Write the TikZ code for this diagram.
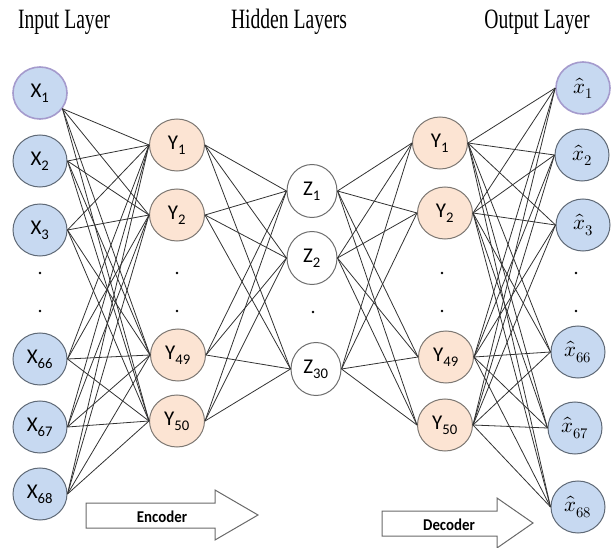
\documentclass[tikz,border=0pt]{standalone}
\usepackage{fontspec}
\usepackage{unicode-math}
\setmainfont{Carlito}
\setmathfont{Latin Modern Math}
\newfontfamily\titlefont{Liberation Serif}
\usetikzlibrary{shapes.geometric}
\definecolor{lightblue}{RGB}{199,217,241}
\definecolor{bluegray}{RGB}{95,105,118}
\definecolor{lavender}{RGB}{165,155,205}
\definecolor{peach}{RGB}{252,228,211}
\definecolor{peachborder}{RGB}{125,120,115}
\definecolor{zborder}{RGB}{110,110,110}
\definecolor{linegray}{RGB}{50,50,50}
\definecolor{arrowgray}{RGB}{105,105,105}
\newcommand\lblfont{\fontsize{21}{23}\selectfont}
\newcommand\squeezetxt[1]{\scalebox{0.7}[1]{#1}}
\begin{document}
\begin{tikzpicture}[x=1pt,y=-1pt,
  conn/.style={draw=linegray, line width=0.8pt},
  titlenode/.style={font=\titlefont\fontsize{28}{30}\selectfont, anchor=base, inner sep=0pt},
  innode/.style={ellipse, draw=bluegray, fill=lightblue, line width=1pt, minimum width=54pt, minimum height=52pt, inner sep=0pt, font=\lblfont},
  selnode/.style={draw=lavender, line width=1.6pt},
  hidnode/.style={ellipse, draw=peachborder, fill=peach, line width=1pt, minimum width=55pt, minimum height=52pt, inner sep=0pt, font=\lblfont},
  znode/.style={ellipse, draw=zborder, fill=white, line width=1pt, minimum width=50pt, minimum height=53pt, inner sep=0pt, font=\lblfont},
  dotnode/.style={circle, fill=black, inner sep=0pt, minimum size=2.6pt},
  arrowshape/.style={draw=arrowgray, fill=white, line width=1pt, line join=miter},
  arrowtext/.style={font=\fontsize{16.5}{18}\selectfont\bfseries, inner sep=0pt}
]
\useasboundingbox (0,0) rectangle (614,548);

% titles
\node[titlenode] (tin) at (64,29) {\squeezetxt{Input Layer}};
\node[titlenode] (thid) at (289,29) {\squeezetxt{Hidden Layers}};
\node[titlenode] (tout) at (537,29) {\squeezetxt{Output Layer}};

% input layer
\node[innode, selnode] (X1) at (40,93) {X\textsubscript{1}};
\node[innode] (X2) at (40,161) {X\textsubscript{2}};
\node[innode] (X3) at (40,230) {X\textsubscript{3}};
\node[dotnode] (xd1) at (40,273) {};
\node[dotnode] (xd2) at (40,311) {};
\node[innode] (X66) at (40,359) {X\textsubscript{66}};
\node[innode] (X67) at (40,427) {X\textsubscript{67}};
\node[innode] (X68) at (40,494) {X\textsubscript{68}};

% encoder hidden layer
\node[hidnode] (eY1) at (177,145) {Y\textsubscript{1}};
\node[hidnode] (eY2) at (177,215) {Y\textsubscript{2}};
\node[dotnode] (ed1) at (177,273) {};
\node[dotnode] (ed2) at (177,311) {};
\node[hidnode] (eY49) at (178,355) {Y\textsubscript{49}};
\node[hidnode] (eY50) at (177,421) {Y\textsubscript{50}};

% bottleneck
\node[znode] (Z1) at (312,191) {Z\textsubscript{1}};
\node[znode] (Z2) at (312,258) {Z\textsubscript{2}};
\node[dotnode] (zd) at (313,312) {};
\node[znode] (Z30) at (316,369) {Z\textsubscript{30}};

% decoder hidden layer
\node[hidnode] (dY1) at (440,143) {Y\textsubscript{1}};
\node[hidnode] (dY2) at (445,213) {Y\textsubscript{2}};
\node[dotnode] (dd1) at (442,273) {};
\node[dotnode] (dd2) at (442,311) {};
\node[hidnode] (dY49) at (446,357) {Y\textsubscript{49}};
\node[hidnode] (dY50) at (445,425) {Y\textsubscript{50}};

% output layer
\node[innode, selnode] (O1) at (583,88) {$\hat{x}_{1}$};
\node[innode] (O2) at (582,155) {$\hat{x}_{2}$};
\node[innode] (O3) at (583,225) {$\hat{x}_{3}$};
\node[dotnode] (od1) at (576,273) {};
\node[dotnode] (od2) at (576,311) {};
\node[innode] (O66) at (578,352) {$\hat{x}_{66}$};
\node[innode] (O67) at (575,428) {$\hat{x}_{67}$};
\node[innode] (O68) at (578,507) {$\hat{x}_{68}$};

% connection points
\coordinate (X1o) at (X1.-35);
\foreach \n in {X2,X3,X66,X67,X68} {\coordinate (\n o) at (\n.east);}

% input -> encoder
\foreach \a in {X1o,X2o,X3o,X66o,X67o,X68o}
  \foreach \b in {eY1,eY2,eY49,eY50}
    \draw[conn] (\a) -- (\b.west);
% encoder -> bottleneck
\foreach \a in {eY1,eY2,eY49,eY50}
  \foreach \b in {Z1,Z2,Z30}
    \draw[conn] (\a.east) -- (\b.west);
% bottleneck -> decoder
\foreach \a in {Z1,Z2,Z30}
  \foreach \b in {dY1,dY2,dY49,dY50}
    \draw[conn] (\a.east) -- (\b.west);
% decoder -> output
\foreach \a in {dY1,dY2,dY49,dY50}
  \foreach \b in {O1,O2,O3,O66,O67,O68}
    \draw[conn] (\a.east) -- (\b.west);

% encoder / decoder arrows
\draw[arrowshape] (86,503) -- (215,503) -- (215,490) -- (258,515) -- (215,540) -- (215,528) -- (86,528) -- cycle;
\node[arrowtext] (enc) at (162,517) {\scalebox{0.9}[1]{Encoder}};
\draw[arrowshape] (382,511) -- (497,511) -- (497,498) -- (533,523) -- (497,548) -- (497,536) -- (382,536) -- cycle;
\node[arrowtext] (dec) at (449,525) {\scalebox{0.9}[1]{Decoder}};
\end{tikzpicture}
\end{document}
